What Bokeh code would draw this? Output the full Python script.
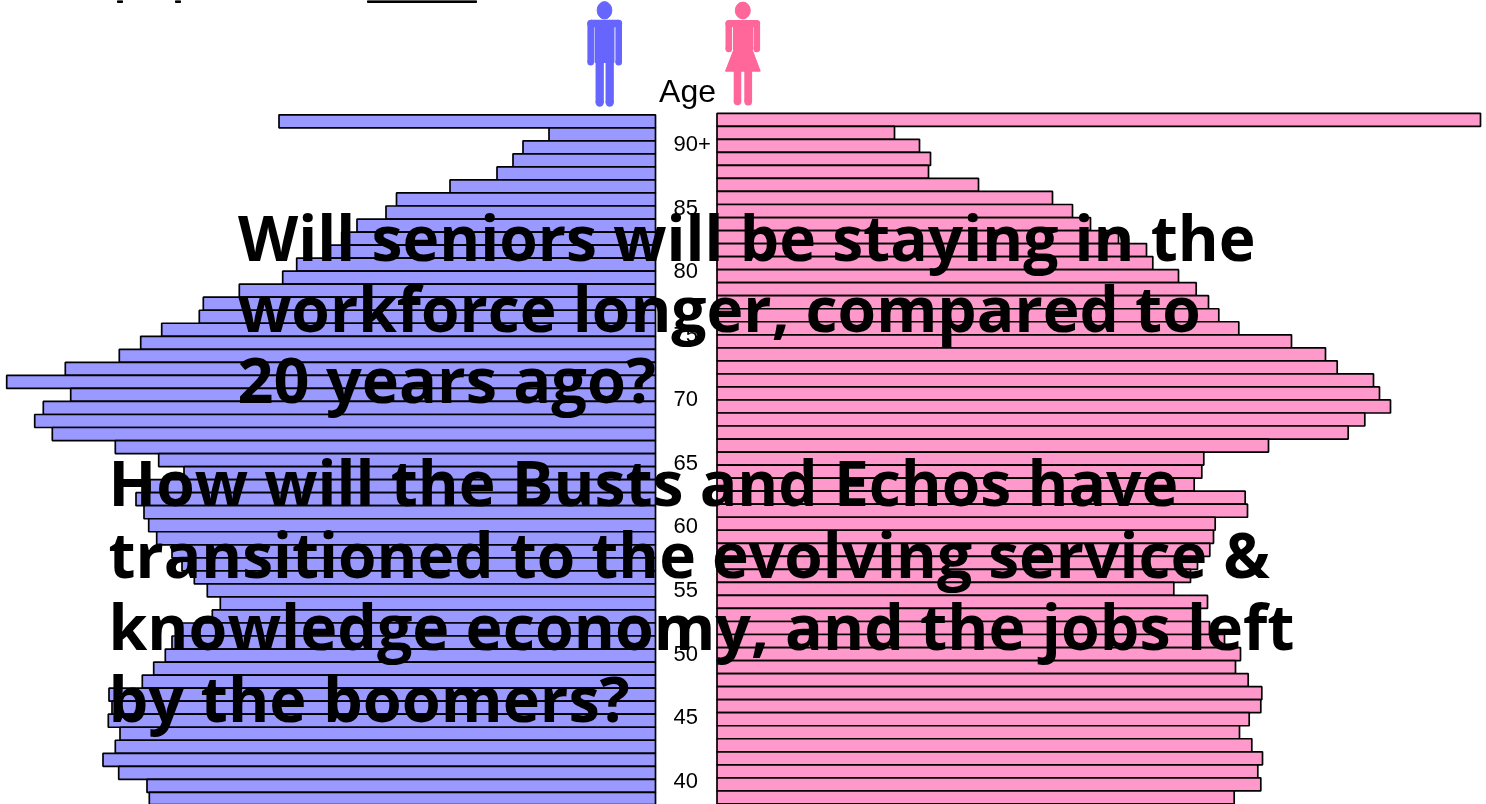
from bokeh.plotting import figure
from bokeh.models import Range1d, ColumnDataSource
from bokeh.core.properties import value
from bokeh.embed import file_html
from bokeh.resources import INLINE

# single-year ages, oldest (top row) to youngest visible
ages = list(range(91, 38, -1))
# bar lengths (arbitrary population units, 1 unit = 1 px)
male_left_edges = [279, 549, 523, 513, 497, 450, 396.5, 386, 357, 341.7, 324, 296.7, 282.7, 239.3, 203.3, 199.3,
                   161.7, 140.7, 119.3, 65.3, 6.7, 70.7, 43.3, 34.7, 52.3, 115.3, 158.7, 184, 150, 136, 144,
                   148.7, 156.7, 172, 182, 194.3, 207.3, 220.3, 212.3, 182, 172, 165.3, 153.7, 142.3, 109, 112,
                   108.3, 120, 115.3, 103, 118.7, 147, 149.3]
female_right_edges = [1480, 894, 919, 930, 928, 978, 1052, 1072, 1090, 1118, 1146, 1152.3, 1178, 1195.7, 1208, 1218.3,
                      1238.3, 1291, 1325, 1336.7, 1373, 1379, 1390, 1364.3, 1347.7, 1268, 1203.3, 1201.3, 1193.7,
                      1244.7, 1247, 1214.7, 1213, 1209.3, 1197, 1190, 1173.3, 1207, 1197, 1209, 1224, 1240, 1235,
                      1247.7, 1261.3, 1260.3, 1248.7, 1239, 1251.3, 1262, 1257.3, 1260.3, 1233.7]
male = [655.5 - v for v in male_left_edges]
female = [v - 716.5 for v in female_right_edges]

tick_ages = [90, 85, 80, 75, 70, 65, 60, 55, 50, 45, 40]
tick_labels = ["90+", "85", "80", "75", "70", "65", "60", "55", "50", "45", "40"]

question_lines = ["Will seniors will be staying in the", "workforce longer, compared to", "20 years ago?",
                  "How will the Busts and Echos have", "transitioned to the evolving service &",
                  "knowledge economy, and the jobs left", "by the boomers?"]
question_x = [237.5, 237.5, 237, 108, 108, 108, 108]
question_y = [236, 307, 378, 481, 553, 625, 697]
question_size = ["62.3px", "62.3px", "63px", "62.3px", "62.2px", "62.7px", "63px"]

W, H = 1486, 804
CX = 686
p = figure(width=W, height=H, output_backend="svg", toolbar_location=None,
           x_range=Range1d(-CX, W - CX), y_range=Range1d(38.57, 100.27), min_border=0)
p.extra_y_ranges = {
    "female": Range1d(38.57 - 0.115, 100.27 - 0.115),
    "labels": Range1d(38.12, 101.22),
    "px": Range1d(H, 0),
}
p.axis.visible = False
p.grid.visible = False
p.outline_line_color = None
p.background_fill_color = "white"
p.styles = {"position": "fixed", "left": "0", "top": "0"}

GAP_L, GAP_R = -31, 30.5
p.hbar(y=ages, left=[GAP_L - v for v in male], right=GAP_L, height=1.0,
       fill_color="#9999FF", line_color="#000000", line_width=1.7)
p.hbar(y=ages, left=GAP_R, right=[GAP_R + v for v in female], height=1.0, y_range_name="female",
       fill_color="#FF99CC", line_color="#000000", line_width=1.7)

p.text(x=[-13] * len(tick_ages), y=tick_ages, text=tick_labels, y_range_name="labels",
       text_font=value("Liberation Sans"), text_font_size="22px", text_align="left",
       text_baseline="middle", text_color="black")
p.text(x=[1], y=[90], text=["Age"], y_range_name="px", text_font=value("Liberation Sans"),
       text_font_size="32px", text_align="center", text_baseline="middle", text_color="black")


def X(v):
    return v - CX


def limb(xs, ys, w, color):
    # a limb with rounded ends
    p.line([X(v) for v in xs], ys, line_width=w, color=color, y_range_name="px")
    p.scatter([X(v) for v in xs], ys, size=w, color=color, line_width=0, y_range_name="px")


BLUE, PINK = "#6666FF", "#FF6699"
# man icon
p.ellipse([X(604)], [9.8], width=14.7, height=17.4, color=BLUE, y_range_name="px")
p.patch([X(v) for v in [594.5, 613.5, 613.5, 594.5]], [20, 20, 62, 62], color=BLUE, y_range_name="px")
limb([590.2, 590.2], [23, 61.7], 6.6, BLUE)
limb([618.2, 618.2], [23, 61.7], 6.6, BLUE)
limb([590.5, 618], [23, 23], 7.4, BLUE)
limb([599.2, 599.2], [60, 102], 8.3, BLUE)
limb([609.2, 609.2], [60, 102], 8.3, BLUE)
# woman icon
p.ellipse([X(742.3)], [10], width=15, height=16.8, color=PINK, y_range_name="px")
p.patch([X(v) for v in [733, 752, 752, 759.7, 725, 733]], [20, 20, 50, 70.7, 70.7, 50], color=PINK, y_range_name="px")
limb([728.3, 728.3], [23, 48.4], 6.6, PINK)
limb([756.3, 756.3], [23, 48.4], 6.6, PINK)
limb([728.6, 756], [23, 23], 7.2, PINK)
limb([737, 737], [68, 101], 7.6, PINK)
limb([747.7, 747.7], [68, 101], 7.8, PINK)

# remnants of the cropped heading at the very top edge
p.quad(left=[X(367)], right=[X(476)], top=[0], bottom=[2], color="black", y_range_name="px")
p.quad(left=[X(117), X(175)], right=[X(122), X(180)], top=[0, 0], bottom=[2, 2], color="black", y_range_name="px")

src = ColumnDataSource(dict(x=[X(v) for v in question_x], y=question_y, t=question_lines, s=question_size))
p.text(x="x", y="y", text="t", source=src, y_range_name="px",
       text_font=value("Open Sans"), text_font_style="bold", text_font_size="s",
       text_align="left", text_baseline="alphabetic", text_color="black")

open("out.html", "w").write(file_html(p, INLINE))
